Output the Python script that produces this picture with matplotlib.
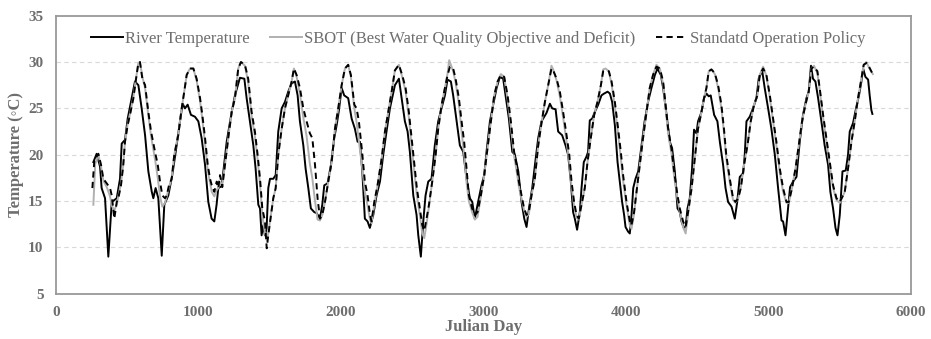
import matplotlib
matplotlib.use("Agg")
import matplotlib.pyplot as plt

# ---------------- data ----------------
river_x = [262, 285, 309, 320, 344, 367, 391, 426, 449, 461, 484, 503, 531, 554, 578, 601, 625, 648,
           672, 683, 699, 718, 742, 760, 788, 816, 840, 870, 889, 905, 924, 947, 975, 999, 1022, 1046,
           1069, 1092, 1111, 1127, 1139, 1163, 1198, 1233, 1256, 1291, 1322, 1338, 1361, 1385, 1401,
           1420, 1432, 1443, 1455, 1466, 1478, 1490, 1502, 1525, 1542, 1560, 1584, 1607, 1630, 1654,
           1677, 1696, 1712, 1736, 1752, 1771, 1789, 1813, 1829, 1853, 1869, 1883, 1906, 1930, 1953,
           1970, 1986, 2005, 2023, 2051, 2075, 2098, 2117, 2133, 2150, 2168, 2187, 2203, 2227, 2250,
           2274, 2297, 2320, 2344, 2379, 2407, 2426, 2449, 2468, 2484, 2508, 2531, 2543, 2561, 2578,
           2594, 2613, 2636, 2659, 2683, 2706, 2730, 2748, 2772, 2788, 2812, 2835, 2859, 2882, 2905,
           2922, 2940, 2959, 2987, 3006, 3022, 3046, 3069, 3093, 3116, 3139, 3156, 3179, 3203, 3221,
           3245, 3268, 3287, 3303, 3320, 3343, 3362, 3385, 3408, 3443, 3467, 3483, 3507, 3525, 3553,
           3577, 3595, 3614, 3630, 3642, 3658, 3677, 3689, 3705, 3724, 3735, 3747, 3764, 3782, 3806,
           3829, 3848, 3872, 3888, 3904, 3923, 3942, 3958, 3974, 3988, 3998, 4016, 4028, 4040, 4052,
           4068, 4087, 4110, 4132, 4156, 4180, 4204, 4222, 4246, 4262, 4286, 4309, 4325, 4344, 4363,
           4379, 4391, 4407, 4420, 4433, 4449, 4465, 4479, 4496, 4507, 4531, 4549, 4566, 4582, 4596,
           4620, 4643, 4660, 4683, 4700, 4718, 4742, 4765, 4782, 4800, 4824, 4835, 4847, 4870, 4893,
           4917, 4933, 4957, 4975, 4999, 5022, 5046, 5069, 5093, 5104, 5121, 5139, 5153, 5174, 5198,
           5221, 5244, 5268, 5284, 5300, 5314, 5331, 5350, 5373, 5396, 5420, 5436, 5455, 5472, 5486,
           5502, 5521, 5544, 5560, 5572, 5595, 5619, 5637, 5654, 5666, 5682, 5701, 5712, 5724, 5731]
river_y = [19.2, 20.1, 18.7, 16.4, 15.3, 9.0, 14.9, 15.3, 17.4, 21.2, 21.6, 23.9, 26.1, 27.9, 27.5, 25.0,
           22.1, 18.2, 16.0, 15.3, 16.4, 15.3, 9.1, 14.6, 15.6, 17.8, 20.3, 23.6, 25.5, 25.0, 25.4, 24.3,
           24.1, 23.6, 21.8, 18.9, 14.9, 13.1, 12.8, 14.6, 16.4, 16.6, 21.4, 24.6, 26.4, 28.3, 28.2, 26.1,
           23.6, 21.0, 18.5, 14.6, 14.2, 11.3, 12.4, 11.3, 12.0, 16.4, 17.4, 17.4, 17.8, 22.5, 25.0, 25.7,
           26.8, 27.7, 27.9, 26.4, 23.6, 21.0, 18.5, 16.4, 14.2, 13.8, 13.7, 13.1, 14.6, 16.7, 16.9, 18.9,
           21.8, 23.2, 24.8, 27.2, 26.4, 26.1, 23.9, 22.8, 21.4, 21.4, 18.2, 13.1, 12.8, 12.1, 13.5, 15.6,
           17.1, 20.0, 22.5, 25.0, 27.5, 28.2, 26.1, 23.6, 22.5, 20.3, 15.6, 13.5, 11.3, 9.0, 12.8, 15.6,
           17.1, 17.4, 21.0, 23.6, 25.0, 26.4, 28.1, 27.9, 26.4, 23.6, 21.0, 20.3, 17.4, 15.3, 14.9, 13.1,
           14.6, 16.7, 17.8, 20.3, 23.6, 25.4, 27.2, 28.4, 28.2, 26.4, 23.9, 20.3, 20.0, 18.2, 14.9, 13.1,
           12.2, 14.2, 16.4, 18.9, 21.8, 23.6, 24.5, 25.5, 25.0, 24.9, 22.5, 22.1, 21.0, 20.0, 17.1, 13.8,
           13.1, 11.9, 13.8, 16.4, 19.2, 19.8, 20.3, 23.7, 23.9, 24.6, 25.4, 26.4, 26.6, 26.8, 26.6, 25.7,
           23.2, 19.2, 17.1, 14.9, 13.5, 12.2, 11.7, 11.5, 13.5, 16.4, 17.4, 18.2, 21.0, 23.6, 25.7, 27.2,
           28.6, 29.3, 28.6, 27.2, 24.3, 21.4, 20.7, 18.2, 14.2, 13.8, 12.8, 12.1, 12.2, 14.2, 15.3, 18.5,
           22.7, 22.3, 23.6, 24.6, 26.1, 26.6, 26.3, 26.4, 24.3, 23.6, 21.4, 18.9, 16.4, 14.9, 14.4, 13.1,
           14.9, 17.6, 18.0, 20.0, 23.6, 24.1, 25.0, 26.1, 28.2, 29.1, 27.2, 25.0, 22.8, 20.0, 16.4, 12.9,
           12.8, 11.3, 14.2, 16.5, 17.1, 17.6, 21.4, 24.3, 26.1, 26.8, 29.6, 28.2, 27.9, 26.1, 23.6, 21.0,
           18.9, 16.0, 14.2, 12.1, 11.3, 13.5, 18.2, 18.3, 20.0, 22.5, 23.4, 25.2, 26.4, 27.9, 29.3, 28.4,
           28.1, 26.4, 24.8, 24.4]

sop_x = [255, 269, 297, 316, 332, 356, 379, 391, 409, 426, 437, 456, 472, 484, 503, 519, 543, 559, 578,
         589, 606, 625, 648, 667, 695, 714, 730, 746, 765, 777, 793, 812, 830, 858, 882, 900, 917, 940,
         964, 987, 1011, 1027, 1046, 1065, 1081, 1093, 1111, 1128, 1139, 1151, 1167, 1186, 1209, 1233,
         1256, 1279, 1298, 1326, 1349, 1373, 1396, 1415, 1432, 1448, 1467, 1479, 1490, 1509, 1525, 1542,
         1560, 1584, 1607, 1630, 1654, 1670, 1689, 1712, 1736, 1759, 1782, 1799, 1818, 1836, 1853, 1869,
         1888, 1911, 1935, 1958, 1981, 2005, 2028, 2051, 2070, 2094, 2110, 2126, 2146, 2168, 2187, 2204,
         2215, 2234, 2257, 2286, 2309, 2332, 2356, 2379, 2407, 2430, 2454, 2477, 2496, 2515, 2533, 2554,
         2571, 2585, 2601, 2618, 2641, 2665, 2683, 2707, 2730, 2749, 2765, 2788, 2805, 2828, 2847, 2865,
         2882, 2898, 2921, 2940, 2959, 2982, 3006, 3029, 3053, 3076, 3100, 3123, 3146, 3170, 3193, 3216,
         3233, 3249, 3268, 3286, 3303, 3319, 3338, 3361, 3385, 3408, 3432, 3455, 3478, 3490, 3514, 3537,
         3560, 3584, 3603, 3619, 3637, 3654, 3670, 3689, 3712, 3731, 3754, 3778, 3801, 3825, 3841, 3858,
         3881, 3900, 3923, 3946, 3965, 3981, 4005, 4028, 4040, 4058, 4075, 4098, 4121, 4145, 4168, 4191,
         4215, 4239, 4262, 4279, 4297, 4320, 4339, 4363, 4379, 4402, 4420, 4437, 4461, 4484, 4507, 4531,
         4549, 4566, 4582, 4601, 4625, 4648, 4671, 4689, 4705, 4730, 4753, 4770, 4789, 4807, 4830, 4854,
         4877, 4900, 4924, 4940, 4964, 4987, 5011, 5034, 5057, 5081, 5104, 5128, 5144, 5167, 5191, 5214,
         5237, 5261, 5284, 5303, 5321, 5345, 5361, 5385, 5408, 5432, 5455, 5479, 5502, 5525, 5537, 5560,
         5584, 5607, 5630, 5654, 5670, 5689, 5707, 5730]
sop_y = [16.4, 19.4, 20.1, 18.9, 17.4, 16.9, 16.4, 15.6, 13.1, 14.9, 15.3, 16.7, 18.9, 21.4, 23.2, 24.3,
         26.1, 27.9, 29.9, 30.0, 28.2, 27.5, 24.6, 22.5, 20.3, 18.9, 17.1, 15.6, 15.3, 15.6, 16.7, 17.4,
         20.0, 22.1, 25.0, 26.8, 28.6, 29.3, 29.3, 28.2, 26.1, 24.3, 21.8, 18.9, 17.4, 16.7, 16.0, 17.1,
         16.4, 17.8, 16.5, 18.9, 21.8, 24.6, 26.1, 29.3, 30.0, 29.7, 28.2, 24.6, 22.5, 20.0, 17.4, 14.2,
         12.8, 9.9, 11.3, 13.5, 15.3, 16.4, 20.0, 22.8, 25.0, 26.4, 27.9, 29.3, 28.6, 27.2, 25.0, 23.6,
         22.3, 21.8, 18.9, 15.3, 13.1, 13.5, 14.9, 17.1, 19.2, 22.8, 25.0, 27.5, 29.3, 29.7, 28.6, 25.4,
         25.0, 23.6, 20.7, 17.1, 15.6, 13.5, 12.8, 14.9, 16.7, 19.6, 22.5, 24.6, 26.8, 29.1, 29.7, 28.6,
         27.2, 24.6, 21.8, 18.9, 16.4, 14.2, 12.4, 11.8, 13.1, 14.6, 17.1, 20.0, 22.8, 25.4, 27.2, 28.6,
         29.5, 29.3, 28.2, 26.1, 23.6, 21.4, 18.5, 15.6, 14.2, 13.5, 13.8, 15.6, 17.8, 20.7, 23.6, 26.4,
         27.9, 28.6, 28.4, 26.4, 23.6, 20.3, 18.9, 17.1, 15.6, 14.2, 13.5, 13.8, 15.6, 17.4, 21.0, 23.4,
         25.7, 27.5, 29.3, 29.1, 28.2, 26.8, 24.6, 22.1, 20.0, 17.1, 14.9, 13.5, 13.1, 14.6, 16.4, 19.2,
         21.8, 24.3, 25.7, 27.5, 29.0, 29.1, 29.0, 27.9, 25.7, 22.8, 20.3, 17.8, 14.9, 12.8, 12.4, 13.8,
         16.0, 18.9, 21.8, 24.6, 27.2, 28.6, 29.5, 29.3, 27.9, 25.4, 22.8, 20.7, 18.2, 15.6, 14.2, 12.8,
         12.2, 13.8, 16.3, 19.5, 22.8, 24.6, 26.1, 27.2, 29.0, 29.2, 28.8, 27.5, 25.4, 22.8, 20.0, 17.4,
         15.3, 14.9, 15.3, 16.4, 18.9, 21.0, 23.6, 25.4, 26.4, 28.6, 29.3, 28.6, 26.4, 23.9, 21.4, 18.5,
         16.4, 14.9, 14.9, 16.4, 18.5, 21.0, 23.6, 25.4, 26.8, 29.3, 29.5, 29.0, 27.2, 24.3, 21.8, 19.2,
         16.7, 15.3, 14.9, 15.6, 16.0, 18.5, 21.4, 23.6, 26.1, 28.2, 29.7, 29.9, 29.5, 28.8]

sbot_x = [262, 275, 297, 316, 332, 356, 379, 391, 409, 426, 437, 456, 472, 484, 503, 519, 543, 559, 578,
          589, 606, 625, 648, 667, 695, 714, 730, 746, 765, 777, 793, 812, 830, 858, 882, 900, 917, 940,
          964, 987, 1011, 1027, 1046, 1065, 1081, 1093, 1111, 1128, 1139, 1151, 1167, 1186, 1209, 1233,
          1256, 1279, 1298, 1326, 1349, 1373, 1396, 1415, 1432, 1448, 1467, 1479, 1490, 1509, 1525, 1542,
          1560, 1584, 1607, 1630, 1654, 1670, 1689, 1712, 1736, 1759, 1782, 1799, 1818, 1836, 1853, 1869,
          1888, 1911, 1935, 1958, 1981, 2005, 2028, 2051, 2070, 2094, 2110, 2126, 2146, 2168, 2187, 2204,
          2215, 2234, 2257, 2286, 2309, 2332, 2356, 2379, 2407, 2430, 2454, 2477, 2496, 2515, 2533, 2554,
          2571, 2585, 2601, 2618, 2641, 2665, 2683, 2707, 2730, 2749, 2760, 2788, 2805, 2828, 2847, 2865,
          2882, 2898, 2921, 2940, 2959, 2982, 3006, 3029, 3053, 3076, 3100, 3123, 3146, 3170, 3193, 3216,
          3233, 3249, 3268, 3286, 3303, 3319, 3338, 3361, 3385, 3408, 3432, 3455, 3478, 3490, 3514, 3537,
          3560, 3584, 3603, 3619, 3637, 3654, 3670, 3689, 3712, 3731, 3754, 3778, 3801, 3825, 3841, 3858,
          3881, 3900, 3923, 3946, 3965, 3981, 4005, 4028, 4040, 4058, 4075, 4098, 4121, 4145, 4168, 4191,
          4215, 4239, 4262, 4279, 4297, 4320, 4339, 4363, 4379, 4402, 4420, 4437, 4461, 4484, 4507, 4531,
          4549, 4566, 4582, 4601, 4625, 4648, 4671, 4689, 4705, 4730, 4753, 4770, 4789, 4807, 4830, 4854,
          4877, 4900, 4924, 4940, 4964, 4987, 5011, 5034, 5057, 5081, 5104, 5128, 5144, 5167, 5191, 5214,
          5237, 5261, 5284, 5303, 5321, 5345, 5361, 5385, 5408, 5432, 5455, 5479, 5502, 5525, 5537, 5560,
          5584, 5607, 5630, 5654, 5670, 5689, 5707, 5734]
sbot_y = [14.6, 19.0, 20.0, 18.7, 17.2, 16.5, 15.5, 14.5, 14.0, 14.6, 15.5, 16.9, 19.0, 21.4, 23.3, 24.4,
          26.2, 28.0, 29.9, 30.0, 28.4, 27.2, 24.2, 22.0, 19.5, 17.5, 15.5, 14.4, 14.8, 15.5, 16.5, 17.4,
          20.0, 22.2, 25.0, 26.8, 28.6, 29.3, 29.3, 28.0, 25.8, 23.8, 21.2, 18.3, 17.0, 16.0, 15.5, 16.2,
          16.4, 17.0, 16.8, 18.9, 21.8, 24.6, 26.1, 29.3, 30.0, 29.6, 27.8, 24.2, 22.0, 19.5, 16.8, 13.5,
          11.5, 10.8, 11.5, 13.6, 15.3, 16.4, 20.0, 22.8, 25.0, 26.4, 27.9, 29.3, 28.4, 26.6, 24.0, 22.0,
          19.0, 17.5, 15.0, 13.0, 12.9, 13.5, 14.9, 17.1, 19.2, 22.8, 25.0, 27.5, 29.3, 29.7, 28.4, 25.0,
          23.5, 21.5, 19.0, 16.0, 14.5, 13.0, 12.6, 14.6, 16.7, 19.6, 22.5, 24.6, 26.8, 29.1, 29.7, 28.4,
          26.8, 24.0, 21.0, 18.2, 15.6, 13.5, 11.5, 11.0, 12.5, 14.4, 17.1, 20.0, 22.8, 25.4, 27.2, 28.8,
          30.2, 29.0, 27.8, 25.5, 22.5, 20.0, 17.0, 15.0, 13.8, 13.0, 13.3, 15.4, 17.8, 20.7, 23.6, 26.4,
          27.9, 28.7, 28.4, 26.0, 23.0, 19.8, 18.3, 16.6, 15.2, 14.0, 13.3, 13.6, 15.6, 17.4, 21.0, 23.4,
          25.7, 27.5, 29.6, 29.2, 28.0, 26.3, 24.0, 21.4, 19.2, 16.5, 14.5, 13.2, 13.0, 14.6, 16.4, 19.2,
          21.8, 24.3, 25.7, 27.5, 29.2, 29.3, 29.0, 27.6, 25.2, 22.2, 19.6, 17.2, 14.5, 12.4, 12.0, 13.6,
          16.0, 18.9, 21.8, 24.6, 27.2, 28.6, 29.7, 29.3, 27.6, 25.0, 22.3, 20.2, 17.7, 15.2, 13.8, 12.2,
          11.5, 13.6, 16.3, 19.5, 22.8, 24.6, 26.1, 27.2, 29.0, 29.2, 28.7, 27.2, 25.0, 22.4, 19.6, 17.0,
          15.1, 14.8, 15.3, 16.4, 18.9, 21.0, 23.6, 25.4, 26.4, 28.6, 29.5, 28.5, 26.2, 23.6, 21.0, 18.1,
          16.0, 14.8, 14.8, 16.4, 18.5, 21.0, 23.6, 25.4, 26.8, 29.3, 29.6, 28.8, 27.0, 24.0, 21.4, 18.8,
          16.4, 15.1, 14.8, 15.6, 16.0, 18.5, 21.4, 23.6, 26.1, 28.2, 29.7, 30.0, 29.4, 28.7]

x_ticks = [0, 1000, 2000, 3000, 4000, 5000, 6000]
y_ticks = [5, 10, 15, 20, 25, 30, 35]
grid_levels = [10, 15, 20, 25, 30]
labels = ["River Temperature", "SBOT (Best Water Quality Objective and Deficit)",
          "Standatd Operation Policy"]

# ---------------- figure ----------------
TXT = "#6e6e6e"
SERIF = ["Liberation Serif", "DejaVu Serif"]

fig = plt.figure(figsize=(9.31, 3.39), dpi=100)
ax = fig.add_axes([0.0602, 0.1336, 0.9180, 0.8201])

ax.plot(river_x, river_y, color="black", lw=1.4, label=labels[0], zorder=3)
ax.plot(sbot_x, sbot_y, color="#b0b0b0", lw=1.4, label=labels[1], zorder=4)
ax.plot(sop_x, sop_y, color="black", lw=1.4, ls=(0, (3.2, 2.2)), label=labels[2], zorder=5)

ax.set_xlim(0, 6000)
ax.set_ylim(5, 35)
ax.set_xticks(x_ticks)
ax.set_yticks(y_ticks)
ax.tick_params(length=0, pad=9)
for lab in ax.get_xticklabels() + ax.get_yticklabels():
    lab.set_family(SERIF)
    lab.set_fontweight("bold")
    lab.set_fontsize(11)
    lab.set_color(TXT)

for y in grid_levels:
    ax.axhline(y, color="#d9d9d9", lw=0.8, ls=(0, (4, 3)), zorder=1)

for s in ax.spines.values():
    s.set_color("#999999")
    s.set_linewidth(1.3)

ax.set_xlabel("Julian Day", family=SERIF, fontweight="bold", fontsize=12, color=TXT, labelpad=0)
ax.set_ylabel("Temperature (◦C)", family=SERIF, fontweight="bold", fontsize=12, color=TXT, labelpad=3)

leg = ax.legend(loc="upper center", bbox_to_anchor=(0.494, 1.0), ncol=3, frameon=False,
                prop={"family": SERIF, "size": 12}, handlelength=1.9, handletextpad=0.15,
                columnspacing=1.2, borderaxespad=0.52)
for t in leg.get_texts():
    t.set_color(TXT)

fig.savefig("out.png", dpi=100)
